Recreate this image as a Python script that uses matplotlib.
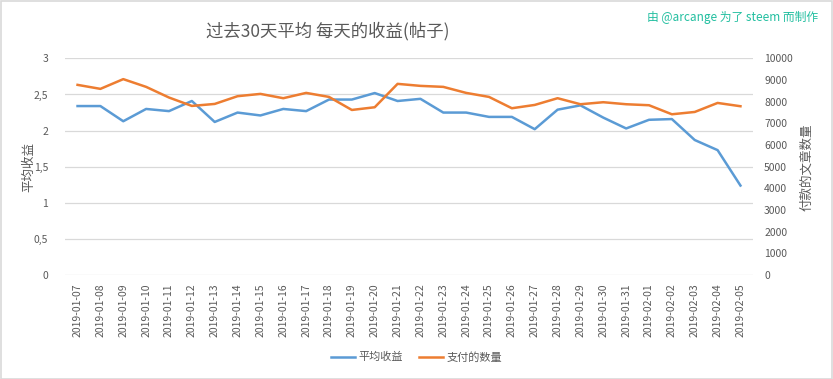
import numpy as np
import pandas as pd
import matplotlib
matplotlib.use("Agg")
import matplotlib.pyplot as plt
from matplotlib.patches import Rectangle
from matplotlib.ticker import FuncFormatter

plt.rcParams['font.family'] = ['Noto Sans CJK SC', 'DejaVu Sans']

# data
dates = pd.date_range('2019-01-07', '2019-02-05').strftime('%Y-%m-%d').tolist()
avg_reward = [2.34, 2.34, 2.13, 2.30, 2.27, 2.41, 2.12, 2.25, 2.21, 2.30,
              2.27, 2.43, 2.43, 2.52, 2.41, 2.44, 2.25, 2.25, 2.19, 2.19,
              2.02, 2.29, 2.35, 2.18, 2.03, 2.15, 2.16, 1.87, 1.73, 1.24]
paid_posts = [8778, 8593, 9042, 8685, 8194, 7806, 7898, 8255, 8361, 8162,
              8407, 8222, 7620, 7745, 8824, 8731, 8685, 8407, 8222, 7699,
              7852, 8162, 7884, 7977, 7884, 7838, 7421, 7528, 7944, 7792]

blue = '#5B9BD5'
orange = '#ED7D31'
grey_txt = '#595959'
grid_col = '#D9D9D9'

fig = plt.figure(figsize=(8.33, 3.79), dpi=100)
ax = fig.add_axes([0.078, 0.274, 0.826, 0.572])
ax2 = ax.twinx()

x = np.arange(len(dates))
l1, = ax.plot(x, avg_reward, color=blue, lw=1.8, label='平均收益')
l2, = ax2.plot(x, paid_posts, color=orange, lw=1.8, label='支付的数量')

ax.set_ylim(0, 3)
ax.set_yticks(np.arange(0, 3.01, 0.5))
ax.yaxis.set_major_formatter(FuncFormatter(lambda v, p: ('%g' % v).replace('.', ',')))
ax2.set_ylim(0, 10000)
ax2.set_yticks(np.arange(0, 10001, 1000))
ax.set_xlim(-0.55, len(dates) - 0.45)

ax.set_xticks(x)
ax.set_xticklabels(dates, rotation=90, fontsize=7.5, color=grey_txt)
ax.grid(axis='y', color=grid_col, lw=0.9)
ax.set_axisbelow(True)
for a in (ax, ax2):
    for s in a.spines.values():
        s.set_visible(False)
    a.tick_params(length=0, colors=grey_txt, labelsize=7.5)
ax.tick_params(axis='y', pad=12)
ax2.tick_params(axis='y', pad=8)
ax.tick_params(axis='x', pad=6)

ax.set_ylabel('平均收益', fontsize=9, color=grey_txt, labelpad=-1)
ax2.set_ylabel('付款的文章数量', fontsize=9, color=grey_txt, rotation=90, labelpad=5)

fig.text(0.394, 0.918, '过去30天平均 每天的收益(帖子)', fontsize=12.5, color=grey_txt,
         ha='center', va='center')
fig.text(0.982, 0.955, '由 @arcange 为了 steem 而制作', fontsize=8.5, color='#22BFA0',
         ha='right', va='center')

fig.legend(handles=[l1, l2], loc='center', bbox_to_anchor=(0.5, 0.058), ncol=2,
           frameon=False, fontsize=8, handlelength=2.2, handletextpad=0.3,
           columnspacing=1.4, labelcolor=grey_txt)

fig.patches.append(Rectangle((0.001, 0.001), 0.998, 0.997, transform=fig.transFigure,
                             fill=False, edgecolor='#D9D9D9', lw=1.2))

fig.savefig('out.png', dpi=100)
